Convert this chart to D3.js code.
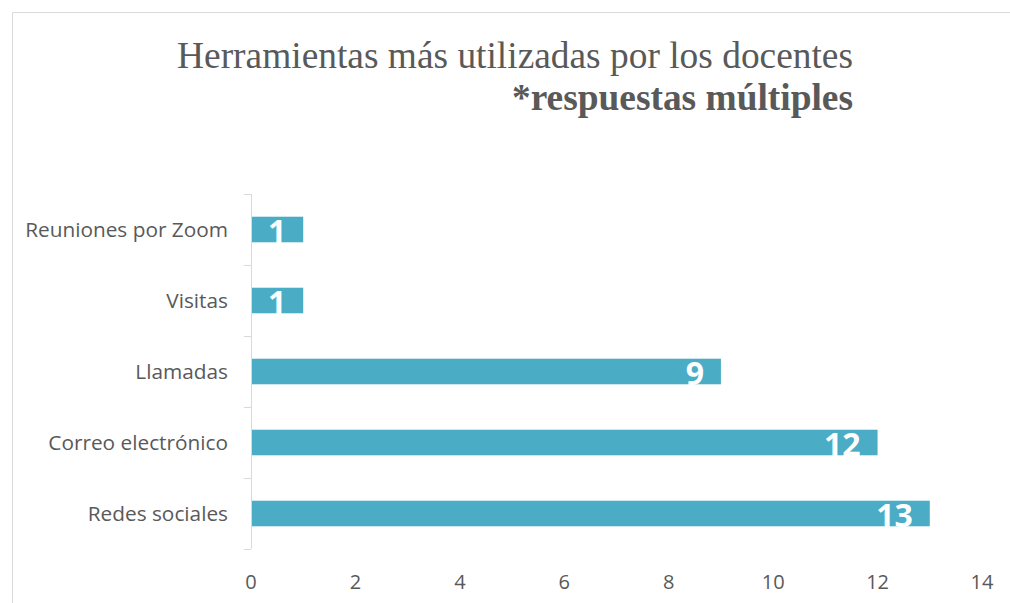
<!DOCTYPE html>
<html>
<head>
<meta charset="utf-8">
<title>Herramientas</title>
<style>
body {margin: 0; background: #fff;}
.cat text, .xax text {font-family: "Open Sans", sans-serif; font-size: 20px; fill: #595959;}
.cat text {font-size: 20.8px;}
</style>
</head>
<body>
<svg width="1010" height="603"></svg>
<script src="https://cdnjs.cloudflare.com/ajax/libs/d3/7.8.5/d3.min.js"></script>
<script>
var categories = ["Reuniones por Zoom", "Visitas", "Llamadas", "Correo electrónico", "Redes sociales"];
var values = [1, 1, 9, 12, 13];
var xTicks = [0, 2, 4, 6, 8, 10, 12, 14];

var svg = d3.select("svg");

// outer chart border (cut off by the frame)
svg.append("path")
    .attr("d", "M12.5,603 L12.5,12.5 L1010,12.5")
    .attr("fill", "none")
    .attr("stroke", "#d9d9d9");

svg.append("text")
    .attr("x", 853).attr("y", 68)
    .attr("text-anchor", "end")
    .style("font-family", "'Liberation Serif', 'Times New Roman', serif")
    .style("font-size", "37.4px")
    .style("fill", "#595959")
    .text("Herramientas más utilizadas por los docentes");
svg.append("text")
    .attr("x", 853).attr("y", 110)
    .attr("text-anchor", "end")
    .style("font-family", "'Liberation Serif', 'Times New Roman', serif")
    .style("font-size", "37.4px")
    .style("font-weight", "bold")
    .style("fill", "#595959")
    .text("*respuestas múltiples");

var x = d3.scaleLinear().domain([0, 14]).range([251, 982]);
var y = d3.scaleBand().domain(categories).range([194, 549]).paddingInner(0.64).paddingOuter(0.32);
var band = d3.scaleBand().domain(categories).range([194, 549]);

// bars
svg.append("g").selectAll("rect")
    .data(categories)
    .enter().append("rect")
    .attr("x", x(0))
    .attr("y", function(d) { return y(d); })
    .attr("width", function(d, i) { return x(values[i]) - x(0); })
    .attr("height", y.bandwidth())
    .attr("fill", "#4bacc6");

// value labels
svg.append("g").selectAll("text")
    .data(categories)
    .enter().append("text")
    .attr("x", function(d, i) { return x(values[i]) - 17; })
    .attr("y", function(d) { return y(d) + y.bandwidth() / 2 + 13; })
    .attr("text-anchor", "end")
    .style("font-family", "'Open Sans', sans-serif")
    .style("font-size", "32px")
    .style("font-weight", "bold")
    .style("fill", "#fff")
    .text(function(d, i) { return values[i]; });

// category axis line and ticks
var cat = svg.append("g").attr("class", "cat");
cat.append("line")
    .attr("x1", 251.5).attr("x2", 251.5)
    .attr("y1", 194).attr("y2", 549)
    .attr("stroke", "#d9d9d9");
var bounds = categories.map(function(d) { return band(d); }).concat([549]);
cat.selectAll(".tk")
    .data(bounds)
    .enter().append("line")
    .attr("x1", 244).attr("x2", 251)
    .attr("y1", function(d) { return Math.round(d) + 0.5; })
    .attr("y2", function(d) { return Math.round(d) + 0.5; })
    .attr("stroke", "#d9d9d9");
cat.selectAll("text")
    .data(categories)
    .enter().append("text")
    .attr("x", 228)
    .attr("y", function(d) { return band(d) + band.bandwidth() / 2; })
    .attr("dy", "0.35em")
    .attr("text-anchor", "end")
    .text(function(d) { return d; });

// value axis labels
svg.append("g").attr("class", "xax").selectAll("text")
    .data(xTicks)
    .enter().append("text")
    .attr("x", function(d) { return x(d); })
    .attr("y", 589)
    .attr("text-anchor", "middle")
    .text(function(d) { return d; });
</script>
</body>
</html>
